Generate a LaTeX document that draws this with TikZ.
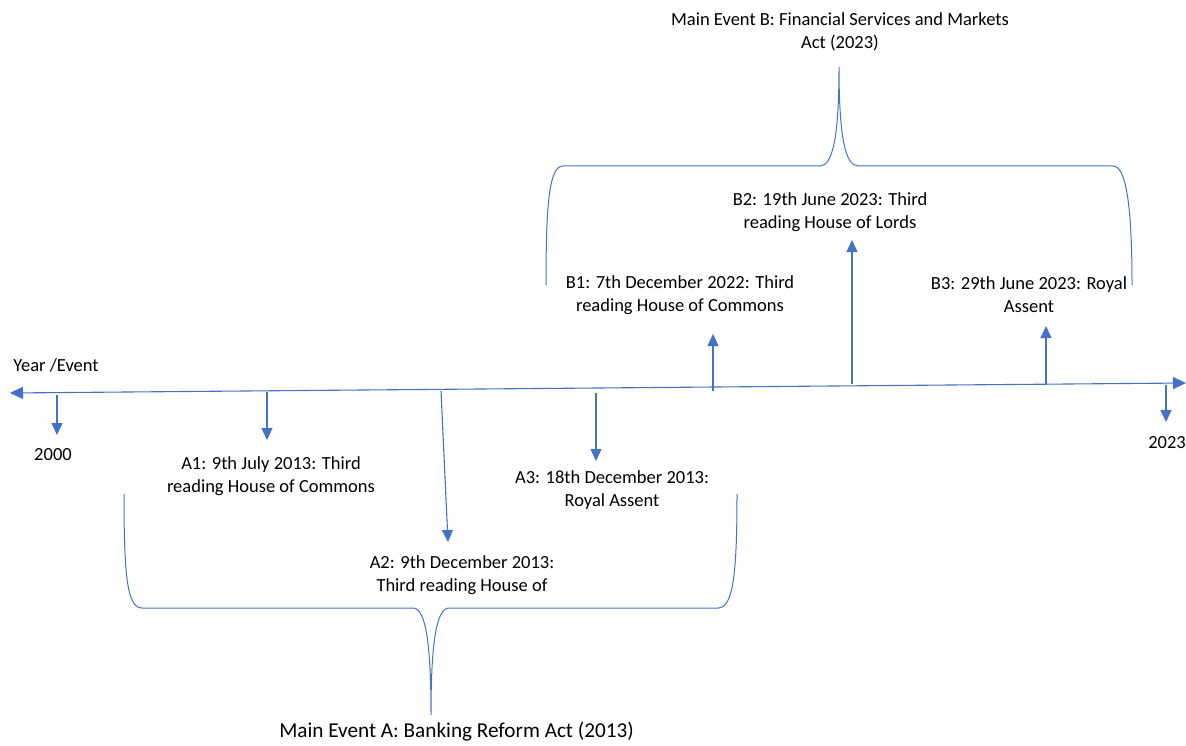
\documentclass[tikz,border=0pt]{standalone}
\usepackage{fontspec}
\setmainfont{Carlito}
\usetikzlibrary{arrows.meta}
\definecolor{lineblue}{HTML}{4472C4}

\begin{document}
\begin{tikzpicture}[x=1pt,y=-1pt,
  conn/.style={draw=lineblue, line width=1.1pt},
  tick/.style={conn, -{Triangle[width=11pt,length=12pt]}},
  brace/.style={draw=lineblue, line width=1pt},
  lbl/.style={font=\fontsize{18.5}{23}\selectfont, align=center, inner sep=0pt, text=black},
  biglbl/.style={lbl, font=\fontsize{21.2}{26}\selectfont}]
\useasboundingbox (0,0) rectangle (1186,746);

% main time axis
\coordinate (axL) at (10,393);
\coordinate (axR) at (1186,383);
\draw[conn, {Triangle[width=12pt,length=13pt]}-{Triangle[width=12pt,length=13pt]}] (axL) -- (axR);

% labels
\node[lbl] (year)  at (56,365)  {Year /Event};
\node[lbl] (y2000) at (53,455)  {2000};
\node[lbl] (y2023) at (1167,443) {2023};
\node[lbl] (a1) at (271,476) {A1: 9th July 2013: Third\\reading House of Commons};
\node[lbl] (a2) at (462,575) {A2: 9th December 2013:\\Third reading House of};
\node[lbl] (a3) at (612,490) {A3: 18th December 2013:\\Royal Assent};
\node[lbl] (b1) at (680,295) {B1: 7th December 2022: Third\\reading House of Commons};
\node[lbl] (b2) at (830,212) {B2: 19th June 2023: Third\\reading House of Lords};
\node[lbl] (b3) at (1029,295) {B3: 29th June 2023: Royal\\Assent};
\node[lbl] (mainB) at (840,32) {Main Event B: Financial Services and Markets\\Act (2023)};
\node[biglbl] (mainA) at (456.5,732) {Main Event A: Banking Reform Act (2013)};

% tick points on the axis and arrow ends
\coordinate (s2000) at (57,395);   \coordinate (e2000) at (57,435);
\coordinate (sA1) at (267,392);    \coordinate (eA1) at (267,440);
\coordinate (sA2) at (441,391);    \coordinate (eA2) at (448,542);
\coordinate (sA3) at (596,393);    \coordinate (eA3) at (596,461);
\coordinate (sB1) at (713,391);    \coordinate (eB1) at (713,334);
\coordinate (sB2) at (852,384);    \coordinate (eB2) at (852,240);
\coordinate (sB3) at (1046,385);   \coordinate (eB3) at (1046,326);
\coordinate (s2023) at (1166,385); \coordinate (e2023) at (1166,422);

\draw[tick] (s2000) -- (e2000);
\draw[tick] (sA1) -- (eA1);
\draw[tick] (sA2) -- (eA2);
\draw[tick] (sA3) -- (eA3);
\draw[tick] (sB1) -- (eB1);
\draw[tick] (sB2) -- (eB2);
\draw[tick] (sB3) -- (eB3);
\draw[tick] (s2023) -- (e2023);

% brace grouping the A events
\draw[brace] (124,494) .. controls (124,575) and (127,608) .. (142,608)
  -- (413,608) .. controls (426,608) and (431,645) .. (431,715)
  .. controls (431,645) and (436,608) .. (449,608)
  -- (718,608) .. controls (733,608) and (737,575) .. (737,494);

% brace grouping the B events
\draw[brace] (546,285) .. controls (546,205) and (549,166) .. (563,166)
  -- (820,166) .. controls (833,166) and (839,135) .. (839,67)
  .. controls (839,135) and (845,166) .. (858,166)
  -- (1113,166) .. controls (1126,166) and (1132,205) .. (1132,285);
\end{tikzpicture}
\end{document}
